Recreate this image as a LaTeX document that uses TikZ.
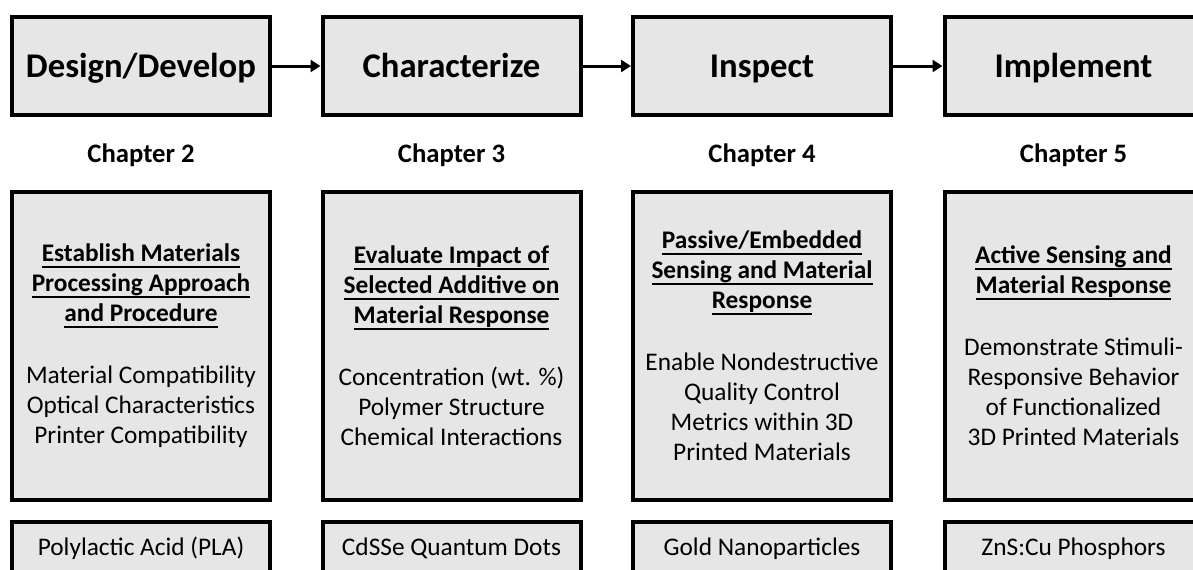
\documentclass[tikz,border=0pt]{standalone}
\usepackage{fontspec}
\setmainfont{Carlito}
\usetikzlibrary{arrows.meta}
\definecolor{boxgray}{RGB}{230,230,230}
\newcommand\hdu[1]{\setbox0\hbox{\bfseries #1}\rlap{\vrule height -3.0pt depth 4.3pt width \wd0}\box0}
\begin{document}
\begin{tikzpicture}[x=0.75pt,y=-0.75pt,
  box/.style={draw=black, line width=3pt, fill=boxgray, inner sep=0pt},
  topbox/.style={box, minimum width=193.5pt, minimum height=73.5pt,
    text height=22pt, text depth=5.5pt,
    font=\fontsize{26pt}{31pt}\selectfont\bfseries},
  midbox/.style={box, minimum width=193.5pt, minimum height=231pt, align=center,
    font=\fontsize{19pt}{22.5pt}\selectfont},
  botbox/.style={box, minimum width=193.5pt, minimum height=60pt},
  chap/.style={font=\fontsize{20pt}{24pt}\selectfont\bfseries},
  bottxt/.style={anchor=base, font=\fontsize{19pt}{22.5pt}\selectfont},
  arr/.style={line width=2.25pt, -{Triangle[length=7.5pt,width=9pt]}}]
\useasboundingbox (0,0) rectangle (1193,569);
\clip (0,0) rectangle (1193,569);
\fill[white] (0,0) rectangle (1193,569);
% top row
\node[topbox] (t1) at (141,66) {Design/Develop};
\node[topbox] (t2) at (451.5,66) {Characterize};
\node[topbox] (t3) at (762,66) {Inspect};
\node[topbox] (t4) at (1073.5,66) {Implement};
\draw[arr] (t1.east) -- (t2.west);
\draw[arr] (t2.east) -- (t3.west);
\draw[arr] (t3.east) -- (t4.west);
% chapters
\node[chap] (c2) at (141,155) {Chapter 2};
\node[chap] (c3) at (451.5,155) {Chapter 3};
\node[chap] (c4) at (762,155) {Chapter 4};
\node[chap] (c5) at (1073.5,155) {Chapter 5};
% middle row
\node[midbox] (m1) at (141,346) {\hdu{Establish Materials}\\\hdu{Processing Approach}\\\hdu{and Procedure}\\[24pt]Material Compatibility\\Optical Characteristics\\Printer Compatibility};
\node[midbox] (m2) at (451.5,346) {\hdu{Evaluate Impact of}\\\hdu{Selected Additive on}\\\hdu{Material Response}\\[24pt]Concentration (wt. \%)\\Polymer Structure\\Chemical Interactions};
\node[midbox] (m3) at (762,346) {\hdu{Passive/Embedded}\\\hdu{Sensing and Material}\\\hdu{Response}\\[24pt]Enable Nondestructive\\Quality Control\\Metrics within 3D\\Printed Materials};
\node[midbox] (m4) at (1073.5,346) {\hdu{Active Sensing and}\\\hdu{Material Response}\\[24pt]Demonstrate Stimuli-\\Responsive Behavior\\of Functionalized\\3D Printed Materials};
% bottom row
\node[botbox] (b1) at (141,562) {};
\node[botbox] (b2) at (451.5,562) {};
\node[botbox] (b3) at (762,562) {};
\node[botbox] (b4) at (1073.5,562) {};
\node[bottxt] (bt1) at (141,555) {Polylactic Acid (PLA)};
\node[bottxt] (bt2) at (451.5,555) {CdSSe Quantum Dots};
\node[bottxt] (bt3) at (762,555) {Gold Nanoparticles};
\node[bottxt] (bt4) at (1073.5,555) {ZnS:Cu Phosphors};
\end{tikzpicture}
\end{document}
